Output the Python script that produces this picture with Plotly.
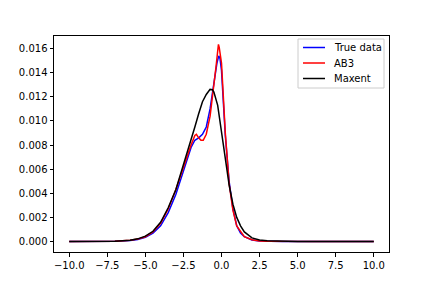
import plotly.graph_objects as go

# True data
x_true = [-10, -8, -7, -6, -5.5, -5, -4.5, -4, -3.5, -3, -2.5, -2.25, -2, -1.75, -1.5, -1.25, -1,
          -0.75, -0.5, -0.3, -0.18, -0.1, 0, 0.1, 0.25, 0.5, 0.75, 1, 1.25, 1.5, 2, 2.5, 3, 4, 6, 8, 10]
y_true = [0, 0.000003, 0.00002, 0.00008, 0.00017, 0.00035, 0.0007, 0.0013, 0.0024, 0.0039, 0.0058, 0.0068,
          0.0078, 0.0084, 0.0086, 0.0089, 0.0095, 0.0110, 0.0132, 0.0148, 0.0154, 0.0152, 0.0142, 0.0121,
          0.0088, 0.0050, 0.0027, 0.0013, 0.0007, 0.0004, 0.00013, 0.00004, 0.00001, 0, 0, 0, 0]

# AB3
x_ab3 = [-10, -8, -7, -6, -5.5, -5, -4.5, -4, -3.5, -3, -2.5, -2.25, -2, -1.75, -1.65, -1.5, -1.35, -1.2,
         -1.1, -1, -0.75, -0.5, -0.35, -0.25, -0.2, -0.15, -0.1, -0.05, 0, 0.1, 0.25, 0.5, 0.75, 1, 1.5, 2,
         2.5, 3, 4, 6, 8, 10]
y_ab3 = [0, 0.000004, 0.00002, 0.0001, 0.0002, 0.0004, 0.0008, 0.0015, 0.0027, 0.0043, 0.0062, 0.0072,
         0.0080, 0.0088, 0.0089, 0.0086, 0.0084, 0.0084, 0.0086, 0.0089, 0.0104, 0.0128, 0.0146, 0.0158,
         0.01635, 0.0161, 0.0156, 0.0155, 0.0148, 0.0125, 0.0090, 0.0048, 0.0026, 0.0013, 0.0004, 0.00015,
         0.00005, 0.00002, 0, 0, 0, 0]

# Maxent
x_max = [-10, -8, -7, -6, -5.5, -5, -4.5, -4, -3.5, -3, -2.5, -2, -1.75, -1.5, -1.25, -1, -0.75, -0.6,
         -0.5, -0.25, 0, 0.25, 0.5, 0.75, 1, 1.25, 1.5, 2, 2.5, 3, 4, 5, 6, 8, 10]
y_max = [0, 0.000005, 0.00002, 0.0001, 0.00022, 0.00045, 0.00085, 0.0016, 0.0028, 0.0043, 0.0063, 0.0084,
         0.0095, 0.0106, 0.0116, 0.0122, 0.01262, 0.0126, 0.0124, 0.0113, 0.0092, 0.0068, 0.0047, 0.0031,
         0.0020, 0.0013, 0.0008, 0.0003, 0.00013, 0.00006, 0.00001, 0, 0, 0, 0]

series_names = ["True data", "AB3", "Maxent"]
series_colors = ["#0000ff", "#ff0000", "#000000"]

x_ticks = [-10, -7.5, -5, -2.5, 0, 2.5, 5, 7.5, 10]
y_ticks = [0.000, 0.002, 0.004, 0.006, 0.008, 0.010, 0.012, 0.014, 0.016]

fig = go.Figure()
for xs, ys, name, col in zip([x_true, x_ab3, x_max], [y_true, y_ab3, y_max], series_names, series_colors):
    fig.add_trace(go.Scatter(x=xs, y=ys, mode="lines", name=name,
                             line=dict(color=col, width=1.5), showlegend=False))

font = dict(family="DejaVu Sans", size=10, color="#000000")
axis_common = dict(showline=True, linecolor="#000000", linewidth=1, mirror=True,
                   ticks="outside", ticklen=3.5, tickwidth=1, tickcolor="#000000",
                   showgrid=False, zeroline=False, tickfont=font)

# plot area in pixels: x 54..389, y 36..252
L, R, T, B = 54, 389, 36, 252
def px(xp):
    return (xp - L) / (R - L)
def py(yp):
    return (B - yp) / (B - T)

shapes = [dict(type="rect", xref="paper", yref="paper",
               x0=px(298), x1=px(384), y0=py(88), y1=py(39),
               line=dict(color="#cccccc", width=1), fillcolor="rgba(255,255,255,0.8)", layer="above")]
annotations = []
for i, (name, col) in enumerate(zip(series_names, series_colors)):
    yy = 47.5 + i * 15.5
    shapes.append(dict(type="line", xref="paper", yref="paper",
                       x0=px(303), x1=px(325), y0=py(yy), y1=py(yy),
                       line=dict(color=col, width=1.5), layer="above"))
    annotations.append(dict(xref="paper", yref="paper", x=px(332), y=py(yy), text=name,
                            showarrow=False, xanchor="left", yanchor="middle", font=font))

fig.update_layout(
    width=432, height=288,
    margin=dict(l=L, r=432 - R, t=T, b=288 - B),
    paper_bgcolor="white", plot_bgcolor="white",
    font=font,
    xaxis=dict(range=[-11, 11], tickvals=x_ticks,
               ticktext=[f"{v:.1f}".replace("-", "\u2212") for v in x_ticks], **axis_common),
    yaxis=dict(range=[-0.00087, 0.01705], tickvals=y_ticks,
               ticktext=[f"{v:.3f}" for v in y_ticks], **axis_common),
    shapes=shapes, annotations=annotations,
    showlegend=False,
)

fig.write_html("out.html", config={"displayModeBar": False},
               post_script="document.body.style.margin='0';document.body.style.padding='0';")
